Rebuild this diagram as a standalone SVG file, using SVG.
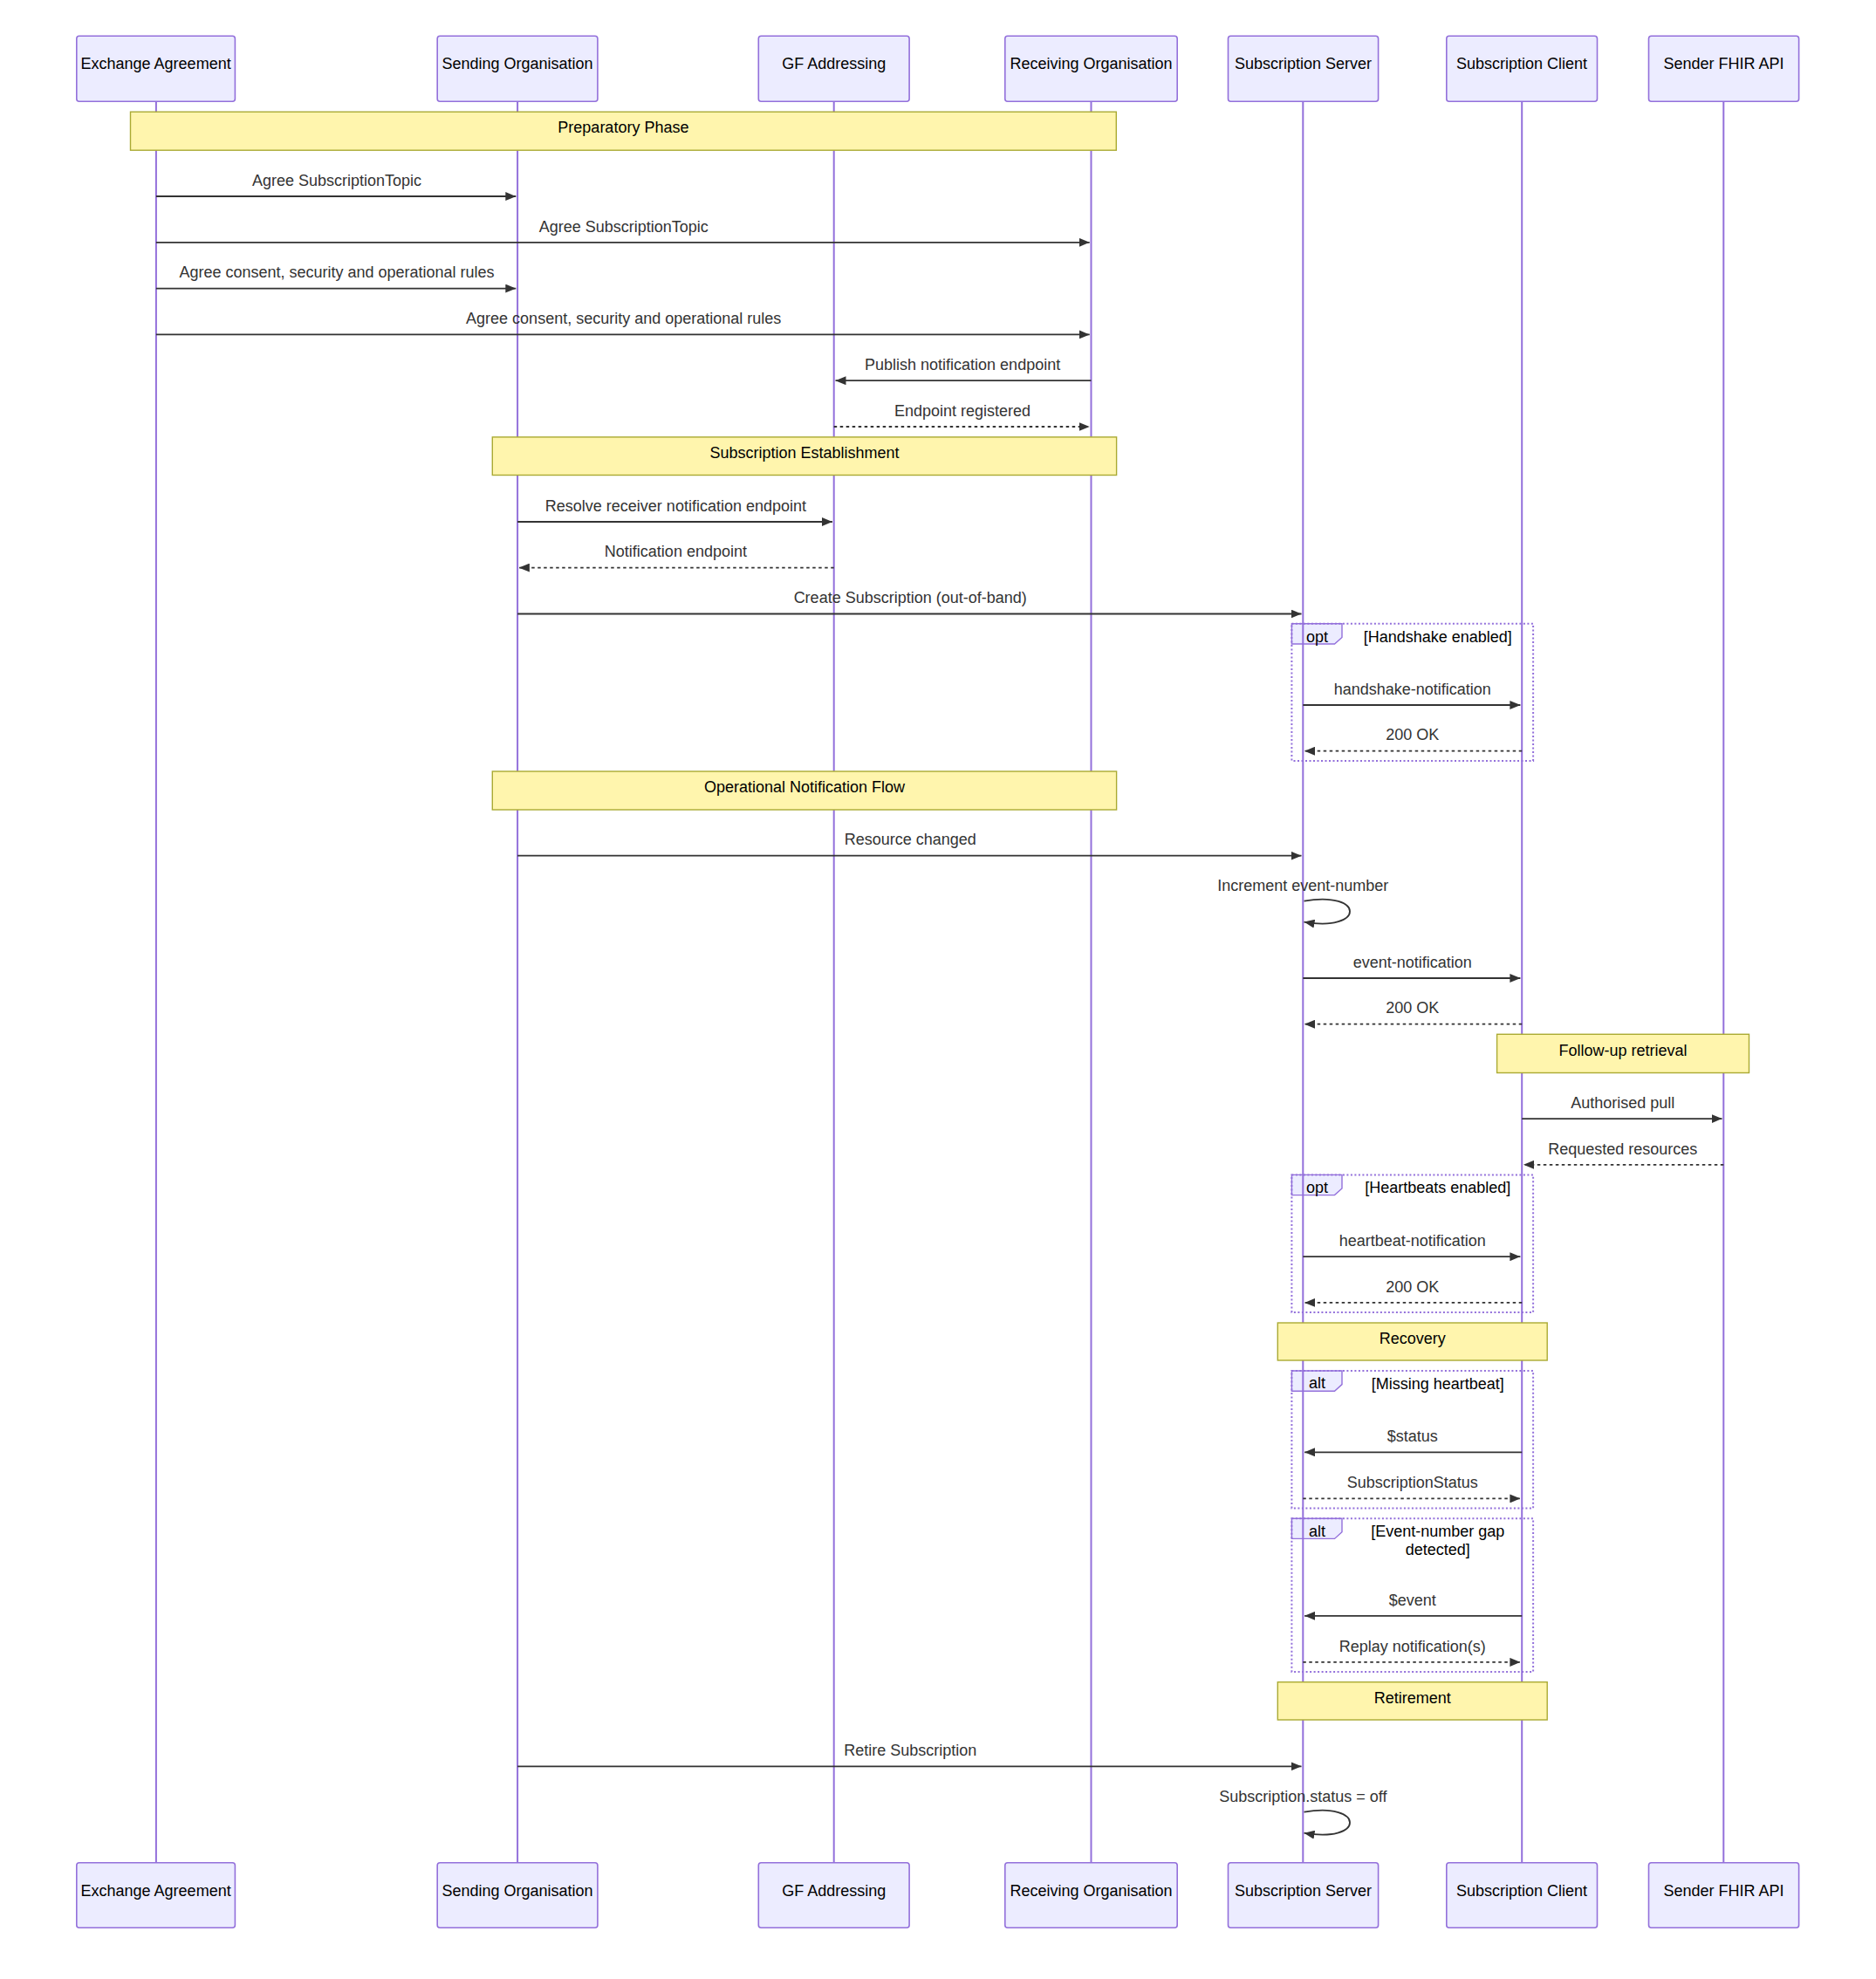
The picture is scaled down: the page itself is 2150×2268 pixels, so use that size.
<svg xmlns="http://www.w3.org/2000/svg" width="2150" height="2268" viewBox="0 0 2150 2268">
<style>
.actor{fill:#ECECFF;stroke:#9370DB;stroke-width:1.6}
.atext{font-family:"Liberation Sans",Arial,sans-serif;font-size:18px;fill:#000;text-anchor:middle;dominant-baseline:central}
.life{stroke:#9370DB;stroke-width:2}
.note{fill:#FFF5AD;stroke:#AAAA33;stroke-width:1.4}
.ntext{font-family:"Liberation Sans",Arial,sans-serif;font-size:18px;fill:#000;text-anchor:middle;dominant-baseline:central}
.mtext{font-family:"Liberation Sans",Arial,sans-serif;font-size:18px;fill:#333;text-anchor:middle;dominant-baseline:central}
.msg{stroke:#333;stroke-width:1.8;fill:none;marker-end:url(#ah)}
.dash{stroke-dasharray:3.5,3.5}
.frame{fill:none;stroke:#9370DB;stroke-width:2;stroke-dasharray:2,2.5}
.lbox{fill:#ECECFF;stroke:#9370DB;stroke-width:1.4}
.ltext{font-family:"Liberation Sans",Arial,sans-serif;font-size:18px;fill:#000;text-anchor:middle;dominant-baseline:central}
</style>
<defs>
<marker id="ah" viewBox="0 0 10 10" refX="10" refY="5" markerUnits="userSpaceOnUse" markerWidth="12" markerHeight="10" orient="auto" preserveAspectRatio="none">
<path d="M0,0 L10,5 L0,10 z" fill="#333"/>
</marker>
</defs>
<rect width="2150" height="2268" fill="#fff"/>

<g id="frame-labels">
<polygon class="lbox" points="1480.4,714.7 1538,714.7 1538,730.4 1529.5,738 1480.4,738"/>
<polygon class="lbox" points="1480.4,1346.4 1538,1346.4 1538,1362 1529.5,1369.6 1480.4,1369.6"/>
<polygon class="lbox" points="1480.4,1571 1538,1571 1538,1586.6 1529.5,1594.2 1480.4,1594.2"/>
<polygon class="lbox" points="1480.4,1740.2 1538,1740.2 1538,1755.8 1529.5,1763.4 1480.4,1763.4"/>
</g>

<g id="lifelines">
<line class="life" x1="178.9" y1="116.3" x2="178.9" y2="2134.7"/>
<line class="life" x1="593.1" y1="116.3" x2="593.1" y2="2134.7"/>
<line class="life" x1="955.7" y1="116.3" x2="955.7" y2="2134.7"/>
<line class="life" x1="1250.5" y1="116.3" x2="1250.5" y2="2134.7"/>
<line class="life" x1="1493.3" y1="116.3" x2="1493.3" y2="2134.7"/>
<line class="life" x1="1744.2" y1="116.3" x2="1744.2" y2="2134.7"/>
<line class="life" x1="1975.3" y1="116.3" x2="1975.3" y2="2134.7"/>
</g>

<g id="exchange-agreement">
<rect class="actor" x="87.8" y="41.3" width="181.6" height="75" rx="3"/>
<text class="atext" x="178.6" y="73">Exchange Agreement</text>
<rect class="actor" x="87.8" y="2134.7" width="181.6" height="74.6" rx="3"/>
<text class="atext" x="178.6" y="2166.7">Exchange Agreement</text>
</g>
<g id="sending-organisation">
<rect class="actor" x="501.2" y="41.3" width="183.7" height="75" rx="3"/>
<text class="atext" x="593" y="73">Sending Organisation</text>
<rect class="actor" x="501.2" y="2134.7" width="183.7" height="74.6" rx="3"/>
<text class="atext" x="593" y="2166.7">Sending Organisation</text>
</g>
<g id="gf-addressing">
<rect class="actor" x="869.3" y="41.3" width="172.8" height="75" rx="3"/>
<text class="atext" x="955.7" y="73">GF Addressing</text>
<rect class="actor" x="869.3" y="2134.7" width="172.8" height="74.6" rx="3"/>
<text class="atext" x="955.7" y="2166.7">GF Addressing</text>
</g>
<g id="receiving-organisation">
<rect class="actor" x="1151.8" y="41.3" width="197.4" height="75" rx="3"/>
<text class="atext" x="1250.5" y="73">Receiving Organisation</text>
<rect class="actor" x="1151.8" y="2134.7" width="197.4" height="74.6" rx="3"/>
<text class="atext" x="1250.5" y="2166.7">Receiving Organisation</text>
</g>
<g id="subscription-server">
<rect class="actor" x="1407.5" y="41.3" width="172.1" height="75" rx="3"/>
<text class="atext" x="1493.5" y="73">Subscription Server</text>
<rect class="actor" x="1407.5" y="2134.7" width="172.1" height="74.6" rx="3"/>
<text class="atext" x="1493.5" y="2166.7">Subscription Server</text>
</g>
<g id="subscription-client">
<rect class="actor" x="1657.8" y="41.3" width="172.7" height="75" rx="3"/>
<text class="atext" x="1744.1" y="73">Subscription Client</text>
<rect class="actor" x="1657.8" y="2134.7" width="172.7" height="74.6" rx="3"/>
<text class="atext" x="1744.1" y="2166.7">Subscription Client</text>
</g>
<g id="sender-fhir-api">
<rect class="actor" x="1889.5" y="41.3" width="172.1" height="75" rx="3"/>
<text class="atext" x="1975.5" y="73">Sender FHIR API</text>
<rect class="actor" x="1889.5" y="2134.7" width="172.1" height="74.6" rx="3"/>
<text class="atext" x="1975.5" y="2166.7">Sender FHIR API</text>
</g>

<g id="note-preparatory">
<rect class="note" x="149.5" y="128.2" width="1129.8" height="44"/>
<text class="ntext" x="714.4" y="146.2">Preparatory Phase</text>
</g>
<g id="note-establishment">
<rect class="note" x="564.3" y="500.9" width="715.3" height="43.6"/>
<text class="ntext" x="922" y="518.8">Subscription Establishment</text>
</g>
<g id="note-operational">
<rect class="note" x="564.3" y="884" width="715.3" height="44"/>
<text class="ntext" x="922" y="902">Operational Notification Flow</text>
</g>
<g id="note-followup">
<rect class="note" x="1715.6" y="1185.3" width="288.9" height="44.2"/>
<text class="ntext" x="1860" y="1203.6">Follow-up retrieval</text>
</g>
<g id="note-recovery">
<rect class="note" x="1464.3" y="1516" width="308.9" height="43"/>
<text class="ntext" x="1618.8" y="1534">Recovery</text>
</g>
<g id="note-retirement">
<rect class="note" x="1464.3" y="1927.7" width="308.9" height="43.3"/>
<text class="ntext" x="1618.8" y="1945.5">Retirement</text>
</g>

<g id="opt-handshake">
<rect class="frame" x="1480.4" y="714.7" width="276.7" height="157.2"/>
<text class="ltext" x="1509.4" y="729.5">opt</text>
<text class="ltext" x="1647.8" y="730.4">[Handshake enabled]</text>
</g>
<g id="opt-heartbeats">
<rect class="frame" x="1480.4" y="1346.4" width="276.7" height="157.6"/>
<text class="ltext" x="1509.4" y="1360.7">opt</text>
<text class="ltext" x="1647.8" y="1360.7">[Heartbeats enabled]</text>
</g>
<g id="alt-missing">
<rect class="frame" x="1480.4" y="1571" width="276.7" height="157.6"/>
<text class="ltext" x="1509.4" y="1585.3">alt</text>
<text class="ltext" x="1647.8" y="1585.7">[Missing heartbeat]</text>
</g>
<g id="alt-gap">
<rect class="frame" x="1480.4" y="1740.2" width="276.7" height="175.8"/>
<text class="ltext" x="1509.4" y="1754.5">alt</text>
<text class="ltext" x="1647.8" y="1755.4">[Event-number gap</text>
<text class="ltext" x="1647.8" y="1775.9">detected]</text>
</g>

<g id="connectors">
<line class="msg" x1="178.9" y1="225" x2="591.3" y2="225"/>
<text class="mtext" x="386" y="206.7">Agree SubscriptionTopic</text>
<line class="msg" x1="178.9" y1="277.8" x2="1248.7" y2="277.8"/>
<text class="mtext" x="714.7" y="259.5">Agree SubscriptionTopic</text>
<line class="msg" x1="178.9" y1="330.6" x2="591.3" y2="330.6"/>
<text class="mtext" x="386" y="312.3">Agree consent, security and operational rules</text>
<line class="msg" x1="178.9" y1="383.4" x2="1248.7" y2="383.4"/>
<text class="mtext" x="714.7" y="365.1">Agree consent, security and operational rules</text>
<line class="msg" x1="1250.5" y1="436.2" x2="957.5" y2="436.2"/>
<text class="mtext" x="1103.1" y="417.9">Publish notification endpoint</text>
<line class="msg dash" x1="955.7" y1="489" x2="1248.7" y2="489"/>
<text class="mtext" x="1103.1" y="470.7">Endpoint registered</text>

<line class="msg" x1="593.1" y1="598" x2="953.9" y2="598"/>
<text class="mtext" x="774.4" y="579.7">Resolve receiver notification endpoint</text>
<line class="msg dash" x1="955.7" y1="650.6" x2="594.9" y2="650.6"/>
<text class="mtext" x="774.4" y="632.3">Notification endpoint</text>
<line class="msg" x1="593.1" y1="703.5" x2="1491.5" y2="703.5"/>
<text class="mtext" x="1043.2" y="685.2">Create Subscription (out-of-band)</text>

<line class="msg" x1="1493.3" y1="808" x2="1742.4" y2="808"/>
<text class="mtext" x="1618.8" y="789.7">handshake-notification</text>
<line class="msg dash" x1="1744.2" y1="860.7" x2="1495.1" y2="860.7"/>
<text class="mtext" x="1618.8" y="842.4">200 OK</text>

<line class="msg" x1="593.1" y1="980.7" x2="1491.5" y2="980.7"/>
<text class="mtext" x="1043.2" y="962.4">Resource changed</text>
<path class="msg" d="M1494.5,1032.6 C1564.5,1020.6 1564.5,1068.6 1494.5,1056.6"/>
<text class="mtext" x="1493.3" y="1015.2">Increment event-number</text>

<line class="msg" x1="1493.3" y1="1121" x2="1742.4" y2="1121"/>
<text class="mtext" x="1618.8" y="1102.7">event-notification</text>
<line class="msg dash" x1="1744.2" y1="1173.7" x2="1495.1" y2="1173.7"/>
<text class="mtext" x="1618.8" y="1155.4">200 OK</text>

<line class="msg" x1="1744.2" y1="1282.1" x2="1973.5" y2="1282.1"/>
<text class="mtext" x="1859.8" y="1263.8">Authorised pull</text>
<line class="msg dash" x1="1975.3" y1="1334.8" x2="1746" y2="1334.8"/>
<text class="mtext" x="1859.8" y="1316.5">Requested resources</text>

<line class="msg" x1="1493.3" y1="1440.2" x2="1742.4" y2="1440.2"/>
<text class="mtext" x="1618.8" y="1421.9">heartbeat-notification</text>
<line class="msg dash" x1="1744.2" y1="1492.9" x2="1495.1" y2="1492.9"/>
<text class="mtext" x="1618.8" y="1474.6">200 OK</text>

<line class="msg" x1="1744.2" y1="1664.3" x2="1495.1" y2="1664.3"/>
<text class="mtext" x="1618.8" y="1646">$status</text>
<line class="msg dash" x1="1493.3" y1="1717.4" x2="1742.4" y2="1717.4"/>
<text class="mtext" x="1618.8" y="1699.1">SubscriptionStatus</text>

<line class="msg" x1="1744.2" y1="1851.8" x2="1495.1" y2="1851.8"/>
<text class="mtext" x="1618.8" y="1833.5">$event</text>
<line class="msg dash" x1="1493.3" y1="1904.9" x2="1742.4" y2="1904.9"/>
<text class="mtext" x="1618.8" y="1886.6">Replay notification(s)</text>

<line class="msg" x1="593.1" y1="2024.3" x2="1491.5" y2="2024.3"/>
<text class="mtext" x="1043.2" y="2006">Retire Subscription</text>
<path class="msg" d="M1494.5,2076.7 C1564.5,2064.7 1564.5,2112.7 1494.5,2100.7"/>
<text class="mtext" x="1493.3" y="2059">Subscription.status = off</text>
</g>
</svg>
